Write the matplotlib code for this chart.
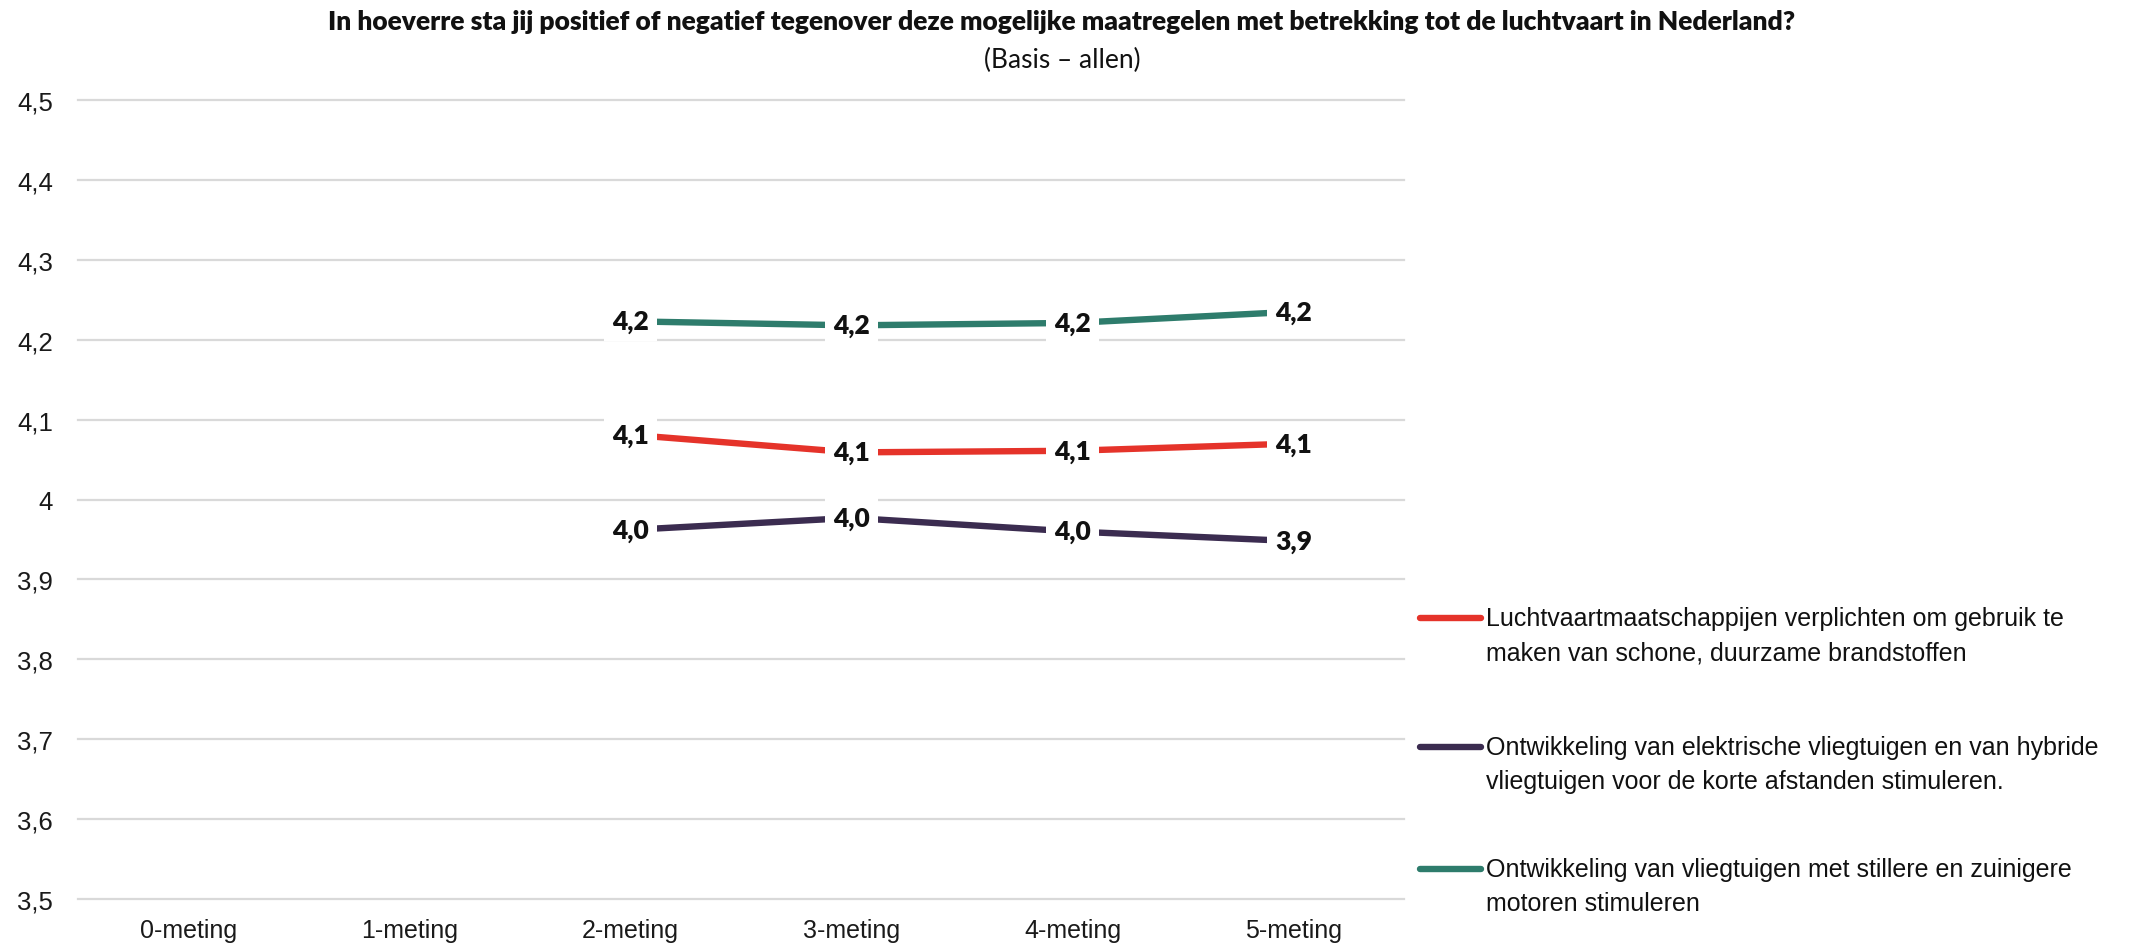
import numpy as np
import matplotlib.pyplot as plt
from matplotlib.lines import Line2D

# Metingen op de x-as en de gemiddelde scores per maatregel (0- en 1-meting ontbreken)
metingen = ['0-meting', '1-meting', '2-meting', '3-meting', '4-meting', '5-meting']
brandstoffen = [np.nan, np.nan, 4.081, 4.059, 4.061, 4.070]
elektrisch = [np.nan, np.nan, 3.962, 3.977, 3.960, 3.948]
stiller = [np.nan, np.nan, 4.223, 4.218, 4.221, 4.235]

y_ticks = [3.5, 3.6, 3.7, 3.8, 3.9, 4.0, 4.1, 4.2, 4.3, 4.4, 4.5]
y_tick_labels = ['3,5', '3,6', '3,7', '3,8', '3,9', '4', '4,1', '4,2', '4,3', '4,4', '4,5']

legend_labels = [
    ['Luchtvaartmaatschappijen verplichten om gebruik te',
     'maken van schone, duurzame brandstoffen'],
    ['Ontwikkeling van elektrische vliegtuigen en van hybride',
     'vliegtuigen voor de korte afstanden stimuleren.'],
    ['Ontwikkeling van vliegtuigen met stillere en zuinigere',
     'motoren stimuleren'],
]

RED = '#E5332A'
PURPLE = '#3B2C50'
TEAL = '#2E7C6C'

plt.rcParams['font.family'] = ['Liberation Sans', 'DejaVu Sans']

fig = plt.figure(figsize=(21.41, 9.45), dpi=100)
ax = fig.add_axes([0.0364, 0.0476, 0.6194, 0.8455])

x = np.arange(len(metingen))
series = [(brandstoffen, RED), (elektrisch, PURPLE), (stiller, TEAL)]
for values, color in series:
    ax.plot(x, values, color=color, lw=4.6, solid_capstyle='butt', zorder=3)
    for xi, v in zip(x, values):
        if np.isnan(v):
            continue
        ax.text(xi, v, f'{v:.1f}'.replace('.', ','), ha='center', va='center',
                fontsize=19, fontweight='heavy', family=['Lato', 'DejaVu Sans'],
                color='#111111', zorder=4,
                bbox=dict(boxstyle='square,pad=0.3', fc='white', ec='none'))

ax.set_xlim(-0.5, len(metingen) - 0.5)
ax.set_ylim(3.5, 4.5)
ax.set_xticks(x)
ax.set_xticklabels(metingen, fontsize=18, color='#1a1a1a')
ax.set_yticks(y_ticks)
ax.set_yticklabels(y_tick_labels, fontsize=18.5, color='#1a1a1a')
ax.tick_params(axis='both', length=0)
ax.tick_params(axis='y', pad=18)
ax.tick_params(axis='x', pad=14)
ax.grid(axis='y', color='#D9D9D9', lw=1.6, zorder=0)
for gl in ax.get_ygridlines():
    gl.set_clip_on(False)
for spine in ax.spines.values():
    spine.set_visible(False)

fig.text(0.496, 0.977, 'In hoeverre sta jij positief of negatief tegenover deze mogelijke '
         'maatregelen met betrekking tot de luchtvaart in Nederland?',
         ha='center', va='center', fontsize=19, fontweight='heavy',
         family=['Lato', 'DejaVu Sans'], color='#111111')
fig.text(0.496, 0.936, '(Basis \u2013 allen)', ha='center', va='center',
         fontsize=19, family=['Lato', 'DejaVu Sans'], color='#111111')

# Legenda rechts van de grafiek, handle op hoogte van de eerste regel
legend_y = [1 - 619 / 945, 1 - 748 / 945, 1 - 870 / 945]
line_gap = 34 / 945
for (values, color), lines, y0 in zip(series, legend_labels, legend_y):
    fig.add_artist(Line2D([1420 / 2141, 1481 / 2141], [y0, y0], color=color,
                          lw=4.6, solid_capstyle='round'))
    for i, line in enumerate(lines):
        fig.text(1486 / 2141, y0 - i * line_gap, line, ha='left', va='center',
                 fontsize=18, color='#111111')

fig.savefig('out.png', dpi=100, facecolor='white')
